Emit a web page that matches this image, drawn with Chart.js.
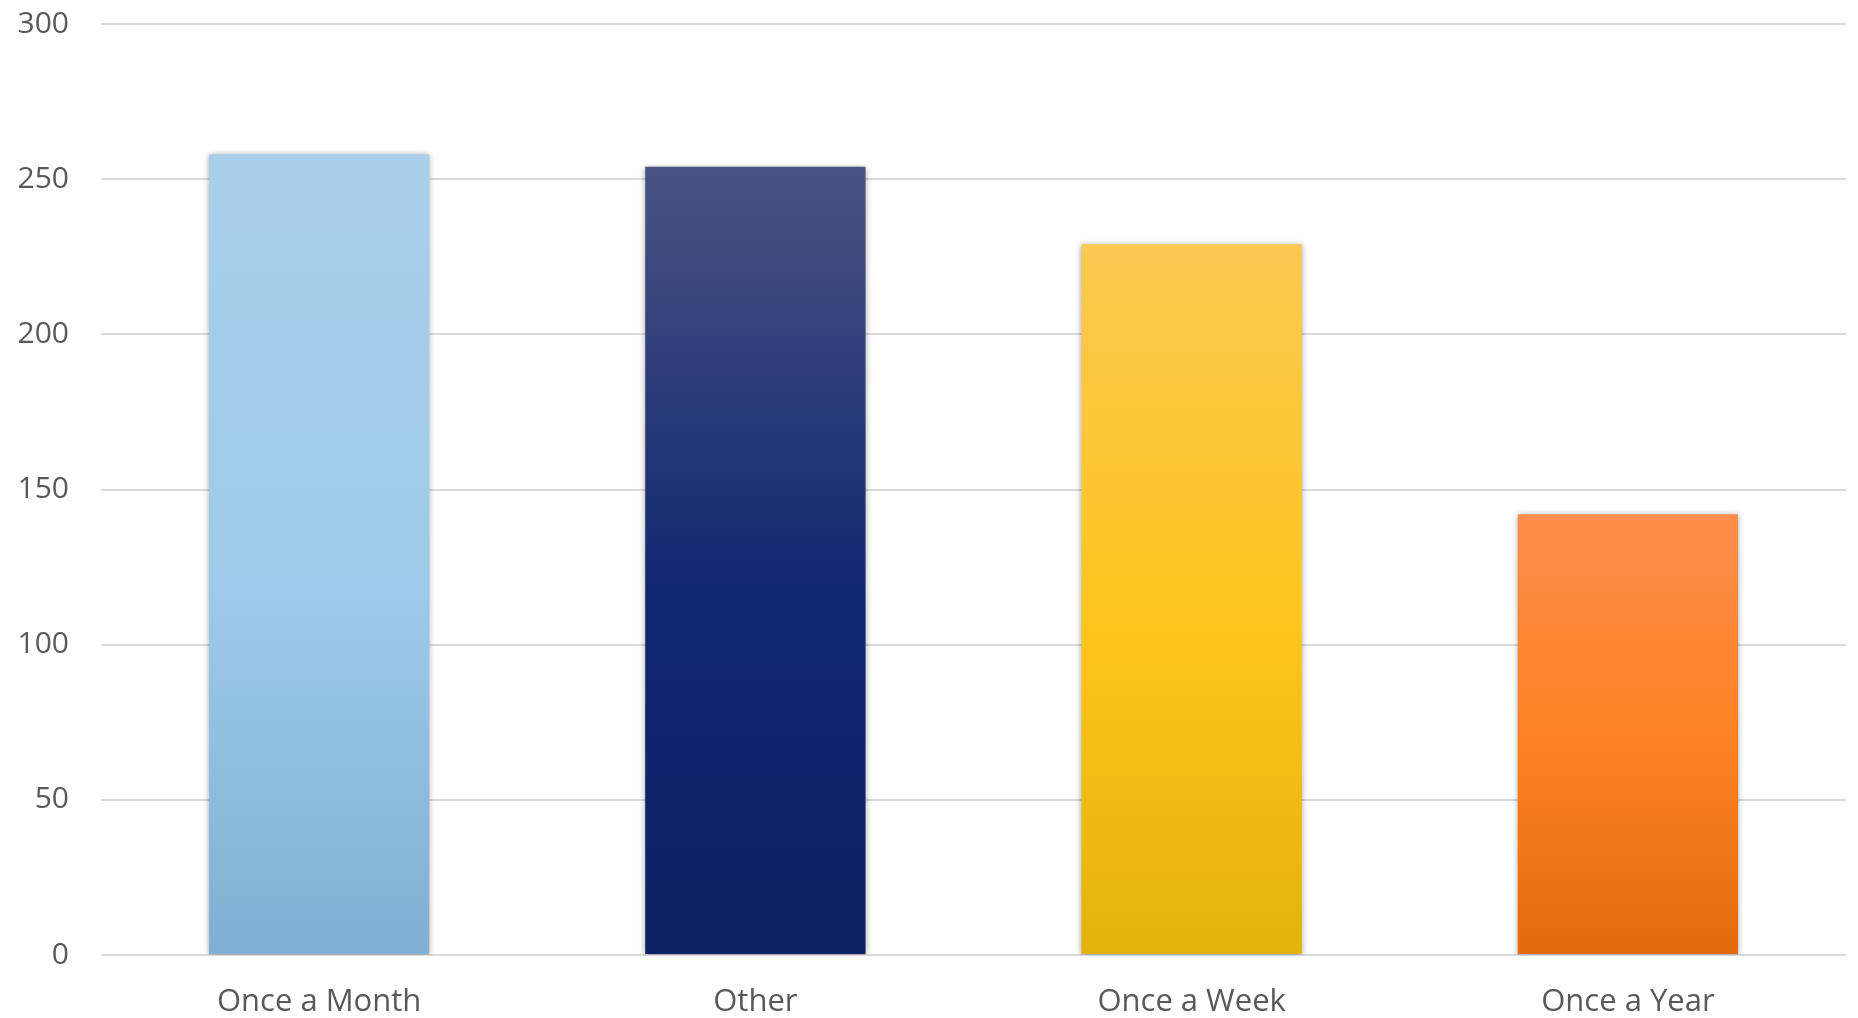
<!DOCTYPE html>
<html>
<head>
<meta charset="utf-8">
<script src="https://cdn.jsdelivr.net/npm/chart.js@4.4.0/dist/chart.umd.min.js"></script>
<style>
  html, body { margin: 0; padding: 0; background: #fff; }
  #wrap { width: 1858px; height: 1018px; }
</style>
</head>
<body>
<div id="wrap"><canvas id="grafico"></canvas></div>
<script>
const categorias = ['Once a Month', 'Other', 'Once a Week', 'Once a Year'];
const valores = [258, 254, 229, 142];
// cores do gradiente: topo, meio, base
const coresTopo = ['#aacfeb', '#4a5282', '#fec852', '#fe8e4c'];
const coresMeio = ['#9dcaea', '#0f2671', '#fdc51b', '#fd8020'];
const coresBase = ['#80afd3', '#0b2165', '#e4b20a', '#e36b09'];

function corBarra(context) {
    const chart = context.chart;
    const area = chart.chartArea;
    if (!area) return coresMeio[context.dataIndex];
    const i = context.dataIndex;
    const yEscala = chart.scales.y;
    const topo = yEscala.getPixelForValue(valores[i]);
    const base = yEscala.getPixelForValue(0);
    const g = chart.ctx.createLinearGradient(0, topo, 0, base);
    g.addColorStop(0, coresTopo[i]);
    g.addColorStop(0.55, coresMeio[i]);
    g.addColorStop(1, coresBase[i]);
    return g;
}

// sombra leve nas barras
const sombraPlugin = {
    id: 'sombra',
    beforeDatasetsDraw(chart) {
        const ctx = chart.ctx;
        ctx.save();
        ctx.shadowColor = 'rgba(0,0,0,0.35)';
        ctx.shadowBlur = 6;
        ctx.shadowOffsetX = 0;
        ctx.shadowOffsetY = 1;
    },
    afterDatasetsDraw(chart) {
        chart.ctx.restore();
    }
};

new Chart(document.getElementById('grafico'), {
    type: 'bar',
    data: {
        labels: categorias,
        datasets: [{
            label: 'Frequência',
            data: valores,
            backgroundColor: corBarra,
            borderWidth: 0,
            categoryPercentage: 1,
            barPercentage: 0.505
        }]
    },
    options: {
        responsive: true,
        maintainAspectRatio: false,
        animation: false,
        layout: { padding: { top: 24, right: 12, left: 0, bottom: 0 } },
        plugins: {
            legend: { display: false },
            tooltip: { enabled: false }
        },
        scales: {
            x: {
                grid: { display: false },
                border: { display: false },
                ticks: {
                    color: '#595959',
                    font: { family: 'Open Sans', size: 31 },
                    padding: 21
                },
                afterFit(scale) { scale.height = 63; }
            },
            y: {
                min: 0,
                max: 300,
                ticks: {
                    stepSize: 50,
                    color: '#595959',
                    font: { family: 'Open Sans', size: 30 },
                    padding: 32
                },
                grid: { color: '#d9d9d9', lineWidth: 2, drawTicks: false },
                border: { display: false },
                afterFit(scale) {
                    scale.width = 101;
                    scale.paddingTop = 0;
                    scale.paddingBottom = 0;
                }
            }
        }
    },
    plugins: [sombraPlugin]
});
</script>
</body>
</html>
